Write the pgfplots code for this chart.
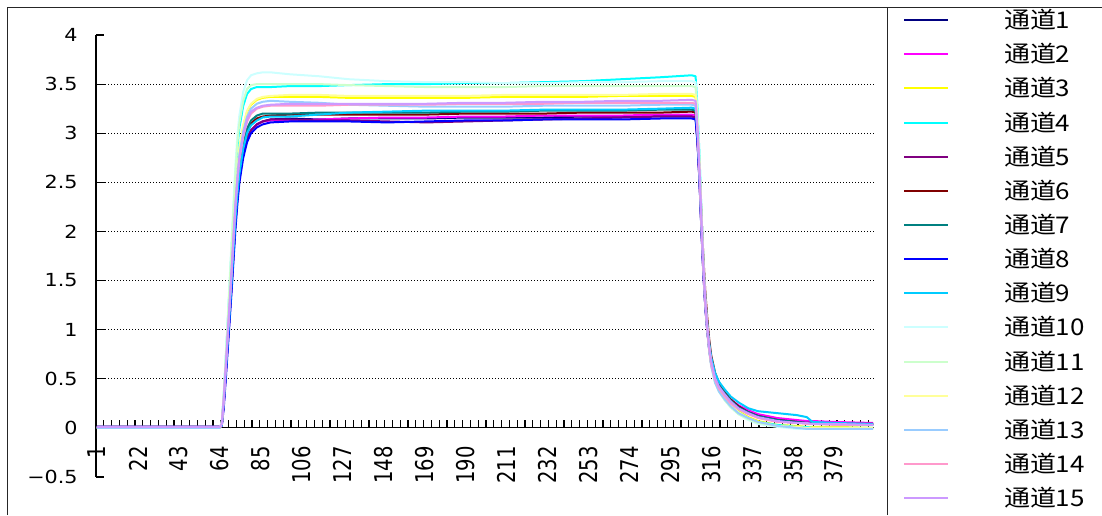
\documentclass[border=0pt]{standalone}
\usepackage{fontspec}
\usepackage{graphicx}
\usepackage{pgfplots}
\pgfplotsset{compat=1.18}
\usepackage{pgfplotstable}
\setmainfont{DejaVu Sans}
\newfontfamily\numfont[FakeStretch=1.15]{DejaVu Sans}
\newfontfamily\cjk[FakeStretch=1.13]{Noto Sans CJK SC}
\newcommand\xl[1]{\scalebox{1}[1.25]{#1}}

% Excel 2003 line palette
\definecolor{s1}{HTML}{000080}
\definecolor{s2}{HTML}{FF00FF}
\definecolor{s3}{HTML}{FFFF00}
\definecolor{s4}{HTML}{00FFFF}
\definecolor{s5}{HTML}{800080}
\definecolor{s6}{HTML}{800000}
\definecolor{s7}{HTML}{008080}
\definecolor{s8}{HTML}{0000FF}
\definecolor{s9}{HTML}{00CCFF}
\definecolor{s10}{HTML}{CCFFFF}
\definecolor{s11}{HTML}{CCFFCC}
\definecolor{s12}{HTML}{FFFF99}
\definecolor{s13}{HTML}{99CCFF}
\definecolor{s14}{HTML}{FF99CC}
\definecolor{s15}{HTML}{CC99FF}

\pgfplotstableread{
n   c1   c2   c3   c4   c5   c6   c7   c8   c9   c10  c11  c12  c13  c14  c15
1   0.01 0.01 0.00 0.00 0.01 0.01 0.01 0.01 0.01 0.00 0.00 0.00 0.00 0.01 0.01
30  0.01 0.01 0.00 0.00 0.01 0.01 0.01 0.01 0.01 0.00 0.00 0.00 0.00 0.01 0.01
64  0.01 0.01 0.00 0.00 0.01 0.01 0.01 0.01 0.01 0.00 0.00 0.00 0.00 0.01 0.01
65  0.03 0.03 0.04 0.05 0.03 0.03 0.03 0.02 0.03 0.06 0.05 0.04 0.04 0.04 0.04
66  0.25 0.24 0.30 0.32 0.25 0.26 0.27 0.20 0.26 0.35 0.33 0.30 0.30 0.28 0.28
67  0.55 0.53 0.63 0.68 0.55 0.56 0.57 0.48 0.56 0.72 0.70 0.63 0.62 0.60 0.60
68  0.85 0.83 0.96 1.05 0.85 0.87 0.88 0.78 0.86 1.10 1.07 0.96 0.95 0.92 0.93
69  1.15 1.13 1.30 1.42 1.15 1.17 1.19 1.08 1.16 1.50 1.45 1.30 1.28 1.24 1.25
70  1.45 1.43 1.65 1.80 1.45 1.48 1.50 1.38 1.47 1.90 1.84 1.65 1.62 1.57 1.59
71  1.78 1.76 2.00 2.18 1.78 1.81 1.84 1.70 1.80 2.30 2.22 2.00 1.97 1.92 1.94
72  2.10 2.08 2.34 2.55 2.10 2.13 2.16 2.02 2.12 2.68 2.60 2.34 2.30 2.25 2.27
73  2.35 2.33 2.61 2.85 2.35 2.39 2.42 2.28 2.38 2.98 2.90 2.62 2.57 2.51 2.53
74  2.55 2.53 2.83 3.05 2.55 2.60 2.63 2.49 2.58 3.18 3.10 2.84 2.78 2.72 2.74
76  2.80 2.79 3.07 3.28 2.80 2.86 2.89 2.75 2.84 3.42 3.33 3.08 3.02 2.96 2.98
78  2.95 2.95 3.22 3.40 2.95 3.01 3.05 2.91 3.00 3.54 3.45 3.23 3.17 3.12 3.14
80  3.03 3.03 3.29 3.45 3.03 3.10 3.13 3.00 3.08 3.59 3.49 3.30 3.25 3.20 3.22
83  3.09 3.09 3.34 3.47 3.09 3.15 3.18 3.06 3.13 3.61 3.50 3.35 3.30 3.25 3.26
86  3.12 3.12 3.36 3.47 3.12 3.17 3.20 3.09 3.16 3.62 3.50 3.37 3.32 3.27 3.28
90  3.14 3.13 3.37 3.47 3.14 3.18 3.20 3.11 3.17 3.62 3.50 3.38 3.33 3.28 3.29
100 3.15 3.13 3.37 3.48 3.14 3.19 3.20 3.12 3.17 3.60 3.50 3.39 3.32 3.28 3.30
115 3.14 3.14 3.37 3.48 3.13 3.19 3.21 3.12 3.19 3.58 3.50 3.39 3.31 3.28 3.30
130 3.15 3.15 3.36 3.49 3.13 3.19 3.21 3.12 3.21 3.55 3.49 3.38 3.29 3.29 3.30
150 3.15 3.16 3.36 3.50 3.12 3.19 3.21 3.11 3.22 3.53 3.48 3.38 3.28 3.29 3.30
170 3.15 3.16 3.36 3.50 3.11 3.19 3.21 3.12 3.23 3.52 3.47 3.38 3.27 3.29 3.30
190 3.16 3.17 3.36 3.51 3.12 3.20 3.22 3.13 3.23 3.52 3.47 3.38 3.27 3.30 3.31
210 3.16 3.17 3.37 3.51 3.13 3.20 3.22 3.13 3.23 3.51 3.47 3.39 3.27 3.30 3.31
230 3.16 3.18 3.37 3.52 3.14 3.20 3.23 3.14 3.24 3.51 3.48 3.39 3.28 3.30 3.32
250 3.17 3.18 3.37 3.53 3.15 3.21 3.23 3.14 3.24 3.52 3.48 3.39 3.28 3.31 3.32
270 3.17 3.18 3.38 3.55 3.16 3.21 3.23 3.14 3.24 3.52 3.48 3.39 3.28 3.31 3.33
290 3.18 3.19 3.38 3.57 3.17 3.21 3.24 3.15 3.25 3.53 3.48 3.40 3.29 3.31 3.33
306 3.18 3.19 3.38 3.59 3.17 3.22 3.24 3.15 3.26 3.53 3.48 3.40 3.29 3.31 3.34
308 3.17 3.18 3.37 3.58 3.16 3.21 3.23 3.14 3.25 3.52 3.47 3.39 3.28 3.30 3.33
309 2.92 2.94 3.08 3.25 2.91 3.00 2.97 2.90 3.00 3.20 3.16 3.10 3.00 3.02 3.06
310 2.53 2.55 2.65 2.78 2.52 2.65 2.58 2.50 2.60 2.74 2.71 2.66 2.58 2.60 2.64
311 2.03 2.05 2.12 2.20 2.02 2.18 2.08 2.00 2.10 2.17 2.15 2.13 2.06 2.08 2.12
312 1.59 1.61 1.65 1.70 1.58 1.74 1.63 1.56 1.66 1.68 1.67 1.66 1.60 1.62 1.66
313 1.24 1.26 1.28 1.31 1.23 1.38 1.28 1.22 1.31 1.29 1.29 1.29 1.24 1.26 1.30
314 1.00 1.02 1.02 1.04 0.99 1.12 1.03 0.98 1.06 1.02 1.02 1.02 0.99 1.01 1.04
315 0.80 0.82 0.81 0.82 0.80 0.90 0.83 0.79 0.86 0.80 0.80 0.81 0.78 0.80 0.83
316 0.66 0.68 0.66 0.66 0.66 0.74 0.68 0.65 0.72 0.64 0.64 0.65 0.63 0.65 0.68
318 0.50 0.52 0.49 0.48 0.50 0.56 0.52 0.49 0.56 0.46 0.46 0.48 0.46 0.49 0.51
320 0.42 0.44 0.40 0.39 0.42 0.46 0.43 0.41 0.47 0.37 0.37 0.39 0.37 0.40 0.42
323 0.34 0.36 0.31 0.30 0.34 0.37 0.35 0.33 0.39 0.28 0.28 0.30 0.29 0.32 0.34
326 0.27 0.29 0.24 0.23 0.27 0.29 0.28 0.26 0.32 0.21 0.21 0.23 0.22 0.25 0.27
330 0.21 0.23 0.17 0.16 0.21 0.22 0.21 0.20 0.26 0.14 0.14 0.16 0.15 0.19 0.20
335 0.16 0.18 0.11 0.10 0.16 0.16 0.16 0.15 0.20 0.08 0.09 0.10 0.10 0.14 0.15
340 0.12 0.14 0.07 0.06 0.12 0.12 0.12 0.11 0.17 0.04 0.05 0.06 0.06 0.10 0.11
350 0.08 0.10 0.03 0.03 0.08 0.08 0.08 0.07 0.15 0.01 0.02 0.02 0.02 0.06 0.07
360 0.06 0.08 0.02 0.01 0.06 0.06 0.06 0.05 0.13 -0.01 0.00 0.01 0.00 0.05 0.05
365 0.05 0.07 0.01 0.01 0.05 0.05 0.05 0.05 0.11 -0.01 0.00 0.00 -0.01 0.04 0.05
368 0.05 0.07 0.01 0.00 0.05 0.05 0.05 0.04 0.06 -0.01 0.00 0.00 -0.01 0.04 0.04
380 0.04 0.06 0.01 0.00 0.04 0.04 0.04 0.04 0.05 -0.01 0.00 0.00 -0.01 0.03 0.04
399 0.04 0.05 0.00 0.00 0.04 0.04 0.03 0.03 0.04 -0.01 0.00 0.00 -0.01 0.03 0.03
}\data

\begin{document}
\begin{tikzpicture}
\useasboundingbox (0pt,0pt) rectangle (551pt,257.5pt);
\begin{axis}[
  at={(48pt,19pt)}, anchor=south west,
  scale only axis, width=389pt, height=221pt,
  xmin=0.5, xmax=399.5, ymin=-0.5, ymax=4,
  axis x line=middle, axis y line=left,
  axis line style={-, line width=0.6pt, black},
  hide obscured x ticks=false, hide obscured y ticks=false,
  tick align=inside,
  tick style={black, line width=0.6pt},
  major tick length=3.75pt,
  xtick={4.5,8.5,...,396.5},
  xticklabels={},
  extra x ticks={1,22,43,64,85,106,127,148,169,190,211,232,253,274,295,316,337,358,379},
  extra x tick labels={\xl{1},\xl{22},\xl{43},\xl{64},\xl{85},\xl{106},\xl{127},\xl{148},\xl{169},\xl{190},\xl{211},\xl{232},\xl{253},\xl{274},\xl{295},\xl{316},\xl{337},\xl{358},\xl{379}},
  extra x tick style={major tick length=0pt,
    tick label style={font=\fontsize{9.8pt}{10pt}\selectfont, rotate=90, anchor=east, inner sep=0pt}},
  xticklabel shift=9pt,
  ytick={-0.5,0,0.5,1,1.5,2,2.5,3,3.5,4},
  yticklabels={−0.5,0,0.5,1,1.5,2,2.5,3,3.5,4},
  yticklabel style={font=\numfont\fontsize{9pt}{9pt}\selectfont, anchor=east, inner sep=0pt},
  yticklabel shift=9pt,
  extra y ticks={0.5,1,1.5,2,2.5,3,3.5},
  extra y tick labels={},
  extra y tick style={major tick length=5pt, grid=major,
    major grid style={black, line width=0.5pt, dash pattern=on 0.5pt off 1pt}},
  every axis plot/.append style={line width=1pt, line join=round, mark=none},
  legend style={at={(1.0373,1.0597)}, anchor=north west, draw=none, fill=none,
    inner sep=0pt, outer sep=0pt, row sep=5.57pt,
    font=\cjk\fontsize{11.5pt}{11.5pt}\selectfont,
    nodes={inner sep=0pt, text height=10pt, text depth=1.5pt}},
  legend cell align=left,
  legend image code/.code={\draw[#1] (0pt,0pt) -- (22pt,0pt);
    \path[draw=none, fill=none] (0pt,0pt) -- (50pt,0pt);},
]
\addplot[s1]  table[x=n,y=c1]{\data};
\addplot[s2]  table[x=n,y=c2]{\data};
\addplot[s3]  table[x=n,y=c3]{\data};
\addplot[s4]  table[x=n,y=c4]{\data};
\addplot[s5]  table[x=n,y=c5]{\data};
\addplot[s6]  table[x=n,y=c6]{\data};
\addplot[s7]  table[x=n,y=c7]{\data};
\addplot[s8]  table[x=n,y=c8]{\data};
\addplot[s9]  table[x=n,y=c9]{\data};
\addplot[s10] table[x=n,y=c10]{\data};
\addplot[s11] table[x=n,y=c11]{\data};
\addplot[s12] table[x=n,y=c12]{\data};
\addplot[s13] table[x=n,y=c13]{\data};
\addplot[s14] table[x=n,y=c14]{\data};
\addplot[s15] table[x=n,y=c15]{\data};
\legend{通道1,通道2,通道3,通道4,通道5,通道6,通道7,通道8,通道9,通道10,通道11,通道12,通道13,通道14,通道15}
\end{axis}
\draw[line width=0.8pt, black!85] (3.75pt,0pt) -- (3.75pt,253.75pt) -- (551pt,253.75pt);
\draw[line width=0.8pt, black!85] (443.75pt,0pt) -- (443.75pt,253.75pt);
\end{tikzpicture}
\end{document}
